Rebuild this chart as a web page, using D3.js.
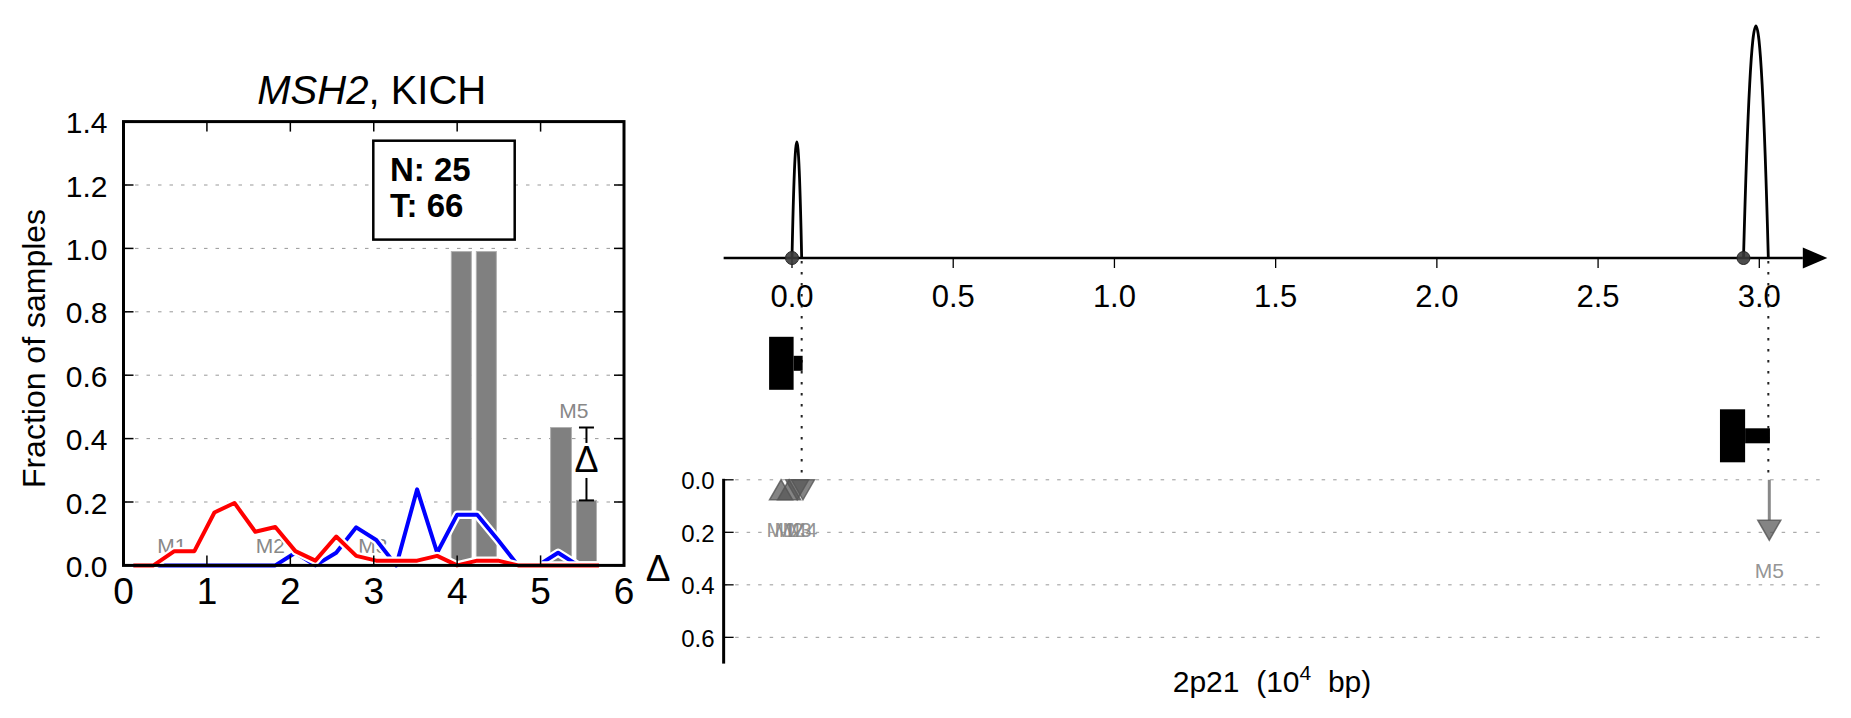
<!DOCTYPE html>
<html><head><meta charset="utf-8">
<script src="https://cdn.jsdelivr.net/npm/d3@7"></script>
<style>
body{margin:0;background:#fff}
svg{display:block}
text{font-family:"Liberation Sans",Arial,Helvetica,sans-serif}
</style>
</head><body>
<svg id="c" width="1851" height="718"></svg>
<script>
// ---------------- data ----------------
const binCenters = [0.12,0.36,0.61,0.85,1.09,1.33,1.58,1.82,2.06,2.30,2.55,2.79,3.03,3.27,3.52,3.76,4.00,4.24,4.49,4.73,4.97,5.21,5.45,5.70];
const tumorFraction = [0,0,0.045,0.045,0.167,0.197,0.106,0.121,0.045,0.015,0.091,0.03,0.015,0.015,0.015,0.03,0,0.015,0.015,0,0,0,0,0];
const normalFraction = [0,0,0,0,0,0,0,0,0.04,0,0.04,0.12,0.08,0,0.24,0.04,0.16,0.16,0.08,0,0,0.04,0,0];
const barStart = [3.93,4.23,5.12,5.43];
const barEnd   = [4.17,4.47,5.37,5.67];
const barValue = [0.99,0.99,0.435,0.205];
const leftMutLabels = ["M1","M2","M3","M5"];
const leftMutX = [0.58,1.76,2.99,5.40];
const leftMutY = [0.062,0.062,0.062,0.49];
const deltaBarX = [5.55];
const deltaHigh = [0.435];
const deltaLow = [0.205];
const countLabels = ["N","T"];
const countValues = [25,66];
const leftXTicks = [0,1,2,3,4,5,6];
const leftYTicks = [0,0.2,0.4,0.6,0.8,1.0,1.2,1.4];
const leftGridTicks = [0.2,0.4,0.6,0.8,1.0,1.2];

const arcStart = [0.0,2.951];
const arcEnd = [0.03,3.028];
const arcHeight = [1,2];
const genomeTicks = [0,0.5,1.0,1.5,2.0,2.5,3.0];
const geneThickStart = [-0.071,2.878];
const geneThickEnd = [0.005,2.956];
const geneThinEnd = [0.033,3.033];
const geneRow = [0,1];
const markerNames = ["M1","M2","M3","M4","M5"];
const markerPos = [-0.034,-0.009,0.016,0.034,3.031];
const markerTip = [0,0,0.076,0.076,0.23];
const markerDir = ["up","up","down","down","down"];
const dottedPos = [0.03,3.028];
const deltaTicks = [0,0.2,0.4,0.6];

// ---------------- drawing ----------------
const svg = d3.select("#c");

// ===== LEFT PANEL =====
const xL = d3.scaleLinear().domain([0,6]).range([123.5,624]);
const yL = d3.scaleLinear().domain([0,1.4]).range([565.4,121.6]);
const gL = svg.append("g");

// grid
gL.selectAll("line.grid").data(leftGridTicks).join("line")
  .attr("x1",xL(0)).attr("x2",xL(6)).attr("y1",d=>yL(d)).attr("y2",d=>yL(d))
  .attr("stroke","#999").attr("stroke-width",1).attr("stroke-dasharray","3.5,8");

// mutation labels (under bars/lines)
gL.selectAll("text.ml").data(leftMutLabels).join("text")
  .attr("x",(d,i)=>xL(leftMutX[i])).attr("y",(d,i)=>yL(leftMutY[i]))
  .attr("text-anchor","middle").attr("dominant-baseline","central")
  .attr("font-size",21).attr("fill","#888").text(d=>d);

// bars
gL.selectAll("rect.bar").data(barValue).join("rect")
  .attr("x",(d,i)=>xL(barStart[i])).attr("width",(d,i)=>xL(barEnd[i])-xL(barStart[i]))
  .attr("y",d=>yL(d)).attr("height",d=>yL(0)-yL(d))
  .attr("fill","#808080").attr("stroke","#b0b0b0").attr("stroke-width",1);

// lines with white halo
const lineGen = vals => d3.line().x((d,i)=>xL(binCenters[i])).y(d=>yL(d))(vals);
[[normalFraction,"#0000ff"],[tumorFraction,"#ff0000"]].forEach(([vals,col])=>{
  gL.append("path").attr("d",lineGen(vals)).attr("fill","none")
    .attr("stroke","#fff").attr("stroke-width",8.5).attr("stroke-linejoin","round");
  gL.append("path").attr("d",lineGen(vals)).attr("fill","none")
    .attr("stroke",col).attr("stroke-width",4).attr("stroke-linejoin","round");
});

// delta error bar
deltaBarX.forEach((dx,i)=>{
  const x = xL(dx), yt = yL(deltaHigh[i]), yb = yL(deltaLow[i]);
  const ym = (yt+yb)/2 - 5;
  gL.append("line").attr("x1",x).attr("x2",x).attr("y1",yt).attr("y2",ym-16).attr("stroke","#000").attr("stroke-width",2);
  gL.append("line").attr("x1",x).attr("x2",x).attr("y1",ym+19).attr("y2",yb).attr("stroke","#000").attr("stroke-width",2);
  gL.append("line").attr("x1",x-7.5).attr("x2",x+7.5).attr("y1",yt).attr("y2",yt).attr("stroke","#000").attr("stroke-width",2);
  gL.append("line").attr("x1",x-7.5).attr("x2",x+7.5).attr("y1",yb).attr("y2",yb).attr("stroke","#000").attr("stroke-width",2);
  gL.append("text").attr("x",x).attr("y",ym+1).attr("text-anchor","middle").attr("dominant-baseline","central")
    .attr("font-size",36).text("\u0394");
});

// N/T box
gL.append("rect").attr("x",373.3).attr("y",140.7).attr("width",141.4).attr("height",98.9)
  .attr("fill","#fff").attr("stroke","#000").attr("stroke-width",2.5);
gL.selectAll("text.cnt").data(countLabels).join("text")
  .attr("x",390).attr("y",(d,i)=>181+i*36)
  .attr("font-size",33).attr("font-weight","bold")
  .text((d,i)=>d+": "+countValues[i]);

// spines
gL.append("rect").attr("x",xL(0)).attr("y",yL(1.4)).attr("width",xL(6)-xL(0)).attr("height",yL(0)-yL(1.4))
  .attr("fill","none").attr("stroke","#000").attr("stroke-width",3);

// inner ticks
leftXTicks.forEach(t=>{
  gL.append("line").attr("x1",xL(t)).attr("x2",xL(t)).attr("y1",yL(0)).attr("y2",yL(0)-10).attr("stroke","#000").attr("stroke-width",1.5);
  gL.append("line").attr("x1",xL(t)).attr("x2",xL(t)).attr("y1",yL(1.4)).attr("y2",yL(1.4)+10).attr("stroke","#000").attr("stroke-width",1.5);
});
leftYTicks.forEach(t=>{
  gL.append("line").attr("x1",xL(0)).attr("x2",xL(0)+10).attr("y1",yL(t)).attr("y2",yL(t)).attr("stroke","#000").attr("stroke-width",1.5);
  gL.append("line").attr("x1",xL(6)).attr("x2",xL(6)-10).attr("y1",yL(t)).attr("y2",yL(t)).attr("stroke","#000").attr("stroke-width",1.5);
});

// tick labels
gL.selectAll("text.xt").data(leftXTicks).join("text")
  .attr("x",d=>xL(d)).attr("y",yL(0)+39).attr("text-anchor","middle")
  .attr("font-size",37).text(d=>d3.format("d")(d));
gL.selectAll("text.yt").data(leftYTicks).join("text")
  .attr("x",xL(0)-16).attr("y",d=>yL(d)+1).attr("text-anchor","end").attr("dominant-baseline","central")
  .attr("font-size",30).text(d=>d3.format(".1f")(d));

// title
const title = gL.append("text").attr("x",(xL(0)+xL(6))/2 - 2).attr("y",104).attr("text-anchor","middle").attr("font-size",40);
title.append("tspan").attr("font-style","italic").text("MSH2");
title.append("tspan").text(", KICH");

// y label
gL.append("text").attr("transform",`translate(45,${(yL(0)+yL(1.4))/2+5}) rotate(-90)`)
  .attr("text-anchor","middle").attr("font-size",32).text("Fraction of samples");

// ===== RIGHT PANEL =====
const xR = d3.scaleLinear().domain([0,3]).range([792,1759.3]);
const yA = d3.scaleLinear().domain([0,2]).range([258,26]);
const yD = d3.scaleLinear().domain([0,0.7]).range([479.8,663.6]);
const rowY = d3.scaleLinear().domain([0,1]).range([363.3,435.8]);
const gR = svg.append("g");
const axStart = -0.212, axEnd = 3.135, axTip = 3.211;

// lower gridlines
gR.selectAll("line.dg").data(deltaTicks).join("line")
  .attr("x1",xR(axStart)).attr("x2",xR(axTip)).attr("y1",d=>yD(d)).attr("y2",d=>yD(d))
  .attr("stroke","#999").attr("stroke-width",1).attr("stroke-dasharray","3.5,8");

// dotted vertical lines
gR.selectAll("line.dot").data(dottedPos).join("line")
  .attr("x1",d=>xR(d)).attr("x2",d=>xR(d)).attr("y1",yA(0)+3).attr("y2",yD(0))
  .attr("stroke","#222").attr("stroke-width",2).attr("stroke-dasharray","2.5,8.5");

// top axis
gR.append("line").attr("x1",xR(axStart)).attr("x2",xR(axEnd)).attr("y1",yA(0)).attr("y2",yA(0))
  .attr("stroke","#000").attr("stroke-width",2.5);
gR.append("path").attr("d",`M${xR(axEnd)},${yA(0)-10.5}L${xR(axTip)},${yA(0)}L${xR(axEnd)},${yA(0)+10.5}Z`).attr("fill","#000");
gR.selectAll("line.gt").data(genomeTicks).join("line")
  .attr("x1",d=>xR(d)).attr("x2",d=>xR(d)).attr("y1",yA(0)).attr("y2",yA(0)+10)
  .attr("stroke","#000").attr("stroke-width",1.3);
gR.selectAll("text.gt").data(genomeTicks).join("text")
  .attr("x",d=>xR(d)).attr("y",yA(0)+49).attr("text-anchor","middle")
  .attr("font-size",31).text(d=>d3.format(".1f")(d));

// arcs
arcStart.forEach((s,i)=>{
  const x0 = xR(s), x1 = xR(arcEnd[i]), xm = (x0+x1)/2;
  const yb = yA(0), yc = yb - 2*(yb - yA(arcHeight[i]));
  gR.append("path").attr("d",`M${x0},${yb}Q${xm},${yc} ${x1},${yb}`)
    .attr("fill","none").attr("stroke","#000").attr("stroke-width",2.8);
});
gR.selectAll("circle.st").data(arcStart).join("circle")
  .attr("cx",d=>xR(d)).attr("cy",yA(0)).attr("r",6.5)
  .attr("fill","#3a3a3a").attr("fill-opacity",0.9).attr("stroke","#222").attr("stroke-width",1);

// gene blocks
geneRow.forEach((r,i)=>{
  const cy = rowY(r);
  gR.append("rect").attr("x",xR(geneThickStart[i])).attr("width",xR(geneThickEnd[i])-xR(geneThickStart[i]))
    .attr("y",cy-26.5).attr("height",53).attr("fill","#000");
  gR.append("rect").attr("x",xR(geneThickEnd[i])).attr("width",xR(geneThinEnd[i])-xR(geneThickEnd[i]))
    .attr("y",cy-7.5).attr("height",15).attr("fill","#000");
});

// lower axis
gR.append("line").attr("x1",xR(axStart)).attr("x2",xR(axStart)).attr("y1",yD(0)-1).attr("y2",yD(0.7))
  .attr("stroke","#000").attr("stroke-width",3);
gR.selectAll("line.dt").data(deltaTicks).join("line")
  .attr("x1",xR(axStart)).attr("x2",xR(axStart)+10).attr("y1",d=>yD(d)).attr("y2",d=>yD(d))
  .attr("stroke","#000").attr("stroke-width",1.3);
gR.selectAll("text.dt").data(deltaTicks).join("text")
  .attr("x",xR(axStart)-9).attr("y",d=>yD(d)+1).attr("text-anchor","end").attr("dominant-baseline","central")
  .attr("font-size",24).text(d=>d3.format(".1f")(d));
gR.append("text").attr("x",658).attr("y",(yD(0)+yD(0.7))/2-3).attr("text-anchor","middle").attr("dominant-baseline","central")
  .attr("font-size",37).text("\u0394");

// markers
markerNames.forEach((m,i)=>{
  const x = xR(markerPos[i]), tip = yD(markerTip[i]);
  const h = 20, w = 11.5;
  let pts, lowY;
  if (markerDir[i]==="down") {
    const base = tip - h;
    if (base > yD(0)) gR.append("line").attr("x1",x).attr("x2",x).attr("y1",yD(0)).attr("y2",base)
      .attr("stroke","#888").attr("stroke-width",3);
    pts = [[x-w,base],[x+w,base],[x,tip]]; lowY = tip;
  } else {
    const base = tip + h;
    pts = [[x-w,base],[x+w,base],[x,tip]]; lowY = base;
  }
  gR.append("path").attr("d","M"+pts.map(p=>p.join(",")).join("L")+"Z")
    .attr("fill","#555").attr("fill-opacity",0.72).attr("stroke","#555").attr("stroke-opacity",0.8).attr("stroke-width",1.5);
  gR.append("text").attr("x",x).attr("y",lowY+30).attr("text-anchor","middle").attr("dominant-baseline","central")
    .attr("font-size",21).attr("fill","#888").attr("fill-opacity",0.9).text(m);
});

// x label
const xl = gR.append("text").attr("x",1272).attr("y",692).attr("text-anchor","middle").attr("font-size",30)
  .style("white-space","pre");
xl.append("tspan").text("2p21  (10");
xl.append("tspan").attr("font-size",21).attr("dy",-12).text("4");
xl.append("tspan").attr("dy",12).text("  bp)");
</script>
</body></html>
